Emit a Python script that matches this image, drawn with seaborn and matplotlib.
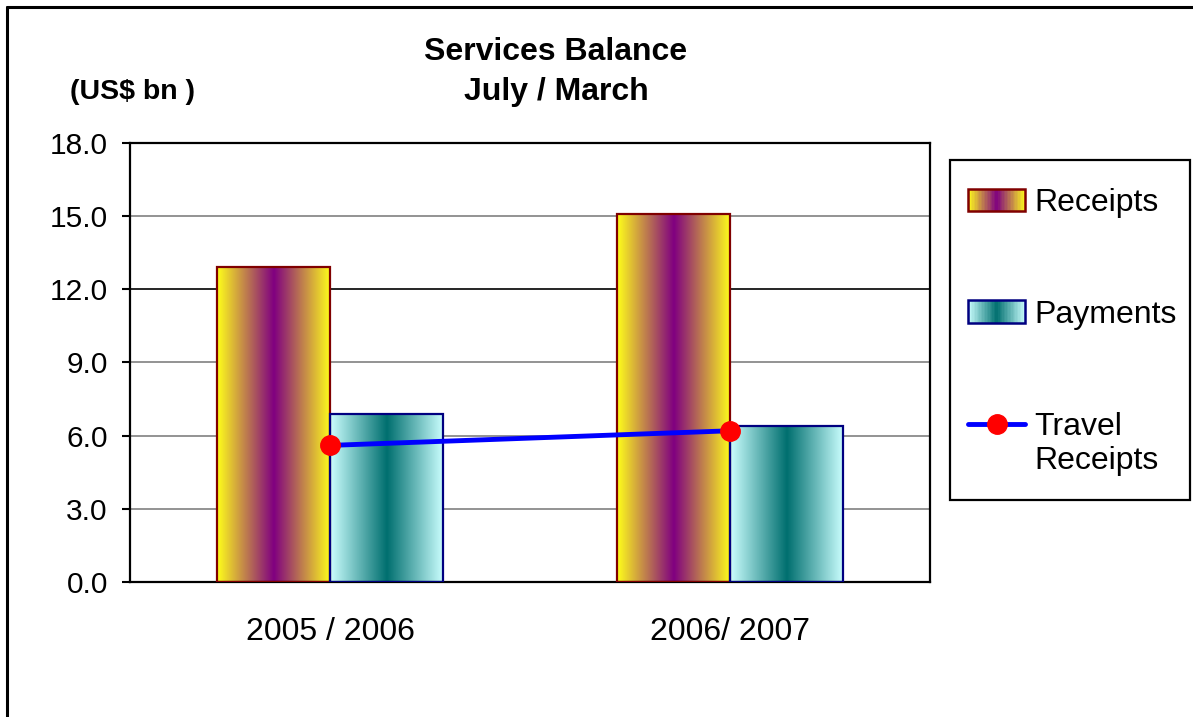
import seaborn as sns
import pandas as pd
import numpy as np
import matplotlib
matplotlib.use('Agg')
import matplotlib.pyplot as plt
from matplotlib.colors import LinearSegmentedColormap
from matplotlib.patches import Rectangle, Patch
from matplotlib.lines import Line2D
from matplotlib.legend_handler import HandlerBase

# data
periods = ['2005 / 2006', '2006/ 2007']
series = ['Receipts', 'Payments']
receipts = [12.9, 15.1]
payments = [6.9, 6.4]
travel_receipts = [5.6, 6.2]
yticks = [0, 3, 6, 9, 12, 15, 18]

# gradient colours: edge -> centre -> edge, outline
grad = {
    'Receipts': ('#ffff1a', '#800080', '#800000'),
    'Payments': ('#ccffff', '#006f6f', '#000080'),
}

sns.set_style('white')
plt.rcParams['font.family'] = ['Liberation Sans', 'DejaVu Sans']
plt.rcParams['text.color'] = 'black'
plt.rcParams['xtick.color'] = 'black'
plt.rcParams['ytick.color'] = 'black'
plt.rcParams['axes.labelcolor'] = 'black'

W, H = 1193, 717


def make_cmap(light, dark):
    return LinearSegmentedColormap.from_list('g', [light, dark, light])


class GradHandler(HandlerBase):
    # legend swatch with the same side-to-side gradient as the bars
    def __init__(self, light, dark, edge):
        super().__init__()
        self.cmap = make_cmap(light, dark)
        self.edge = edge

    def create_artists(self, legend, orig_handle, xdescent, ydescent,
                       width, height, fontsize, trans):
        arts = []
        n = 40
        for i in range(n):
            arts.append(Rectangle((-xdescent + i * width / n, -ydescent), width / n * 1.05, height,
                                  facecolor=self.cmap((i + 0.5) / n), edgecolor='none',
                                  transform=trans))
        arts.append(Rectangle((-xdescent, -ydescent), width, height, facecolor='none',
                              edgecolor=self.edge, lw=1.8, transform=trans))
        return arts


class LineHandler(HandlerBase):
    # line + marker sitting level with the first line of a two-line label
    def create_artists(self, legend, orig_handle, xdescent, ydescent,
                       width, height, fontsize, trans):
        y = -ydescent + height / 2 + 14.4
        ln = Line2D([-xdescent, -xdescent + width], [y, y], color='#0000ff', lw=3.5,
                    solid_capstyle='round', transform=trans)
        mk = Line2D([-xdescent + width / 2], [y], ls='none', marker='o', markersize=14,
                    markerfacecolor='#ff0000', markeredgecolor='#ff0000', transform=trans)
        return [ln, mk]


df = pd.DataFrame({
    'period': periods * 2,
    'series': [series[0]] * 2 + [series[1]] * 2,
    'value': receipts + payments,
})

fig = plt.figure(figsize=(W / 100, H / 100), dpi=100)
ax = fig.add_axes([0.109, 0.1883, 0.6706, 0.6123])

sns.barplot(data=df, x='period', y='value', hue='series', hue_order=series,
            palette=[grad[s][1] for s in series], width=0.566, legend=False,
            ax=ax, zorder=2)

# replace flat fill with gradient images clipped to each bar
g = np.linspace(0, 1, 256).reshape(1, -1)
for cont, s in zip(ax.containers, series):
    light, dark, edge = grad[s]
    cmap = make_cmap(light, dark)
    for bar in cont:
        x0, y0 = bar.get_x(), bar.get_y()
        w, h = bar.get_width(), bar.get_height()
        ax.imshow(g, cmap=cmap, extent=(x0, x0 + w, y0, y0 + h), aspect='auto',
                  interpolation='bilinear', zorder=2)
        bar.set_facecolor('none')
        bar.set_edgecolor(edge)
        bar.set_linewidth(1.6)
        bar.set_zorder(3)

ax.plot(range(len(periods)), travel_receipts, color='#0000ff', lw=3.5, marker='o',
        markersize=14, markerfacecolor='#ff0000', markeredgecolor='#ff0000', zorder=4)

ax.set_xlim(-0.5, len(periods) - 0.5)
ax.set_ylim(0, 18)
ax.set_yticks(yticks)
ax.set_yticklabels([f'{v:.1f}' for v in yticks], fontsize=21.5)
ax.set_xticks(range(len(periods)))
ax.set_xticklabels(periods, fontsize=23)
ax.set_xlabel('')
ax.set_ylabel('')
ax.tick_params(axis='x', length=0, pad=25)
ax.tick_params(axis='y', length=6, width=1.5, pad=10, left=True, direction='out', color='black')
ax.yaxis.grid(True, color='#808080', lw=1.2)
ax.get_ygridlines()[4].set_color('black')
ax.set_axisbelow(True)
for sp in ax.spines.values():
    sp.set_visible(True)
    sp.set_color('black')
    sp.set_linewidth(1.6)

fig.text(0.466, 1 - 52 / H, 'Services Balance', ha='center', va='center', fontsize=23, fontweight='bold')
fig.text(0.466, 1 - 92 / H, 'July / March', ha='center', va='center', fontsize=23, fontweight='bold')
fig.text(0.059, 1 - 92 / H, '(US$ bn )', ha='left', va='center', fontsize=20.5, fontweight='bold')

h_rec = Patch(label='Receipts')
h_pay = Patch(label='Payments')
h_trv = Line2D([], [])
leg = fig.legend([h_rec, h_pay, h_trv], ['Receipts', 'Payments', 'Travel\nReceipts'],
                 handler_map={h_rec: GradHandler(*grad['Receipts']),
                              h_pay: GradHandler(*grad['Payments']),
                              h_trv: LineHandler()},
                 loc='upper left', bbox_to_anchor=(952 / W, 1 - 172 / H),
                 borderaxespad=0, fontsize=23, frameon=False, labelspacing=2.56,
                 handlelength=1.8, handletextpad=0.28, borderpad=0.5, numpoints=1)

# legend box drawn separately so its size matches the reference
fig.add_artist(Rectangle((950 / W, 1 - 500 / H), 240 / W, 340 / H, transform=fig.transFigure,
                         facecolor='none', edgecolor='black', lw=1.6))

# outer chart border (left and top only visible)
fig.add_artist(Line2D([7 / W, 7 / W], [0, 1 - 7 / H], transform=fig.transFigure,
                      color='black', lw=2.2))
fig.add_artist(Line2D([7 / W, 1], [1 - 7 / H, 1 - 7 / H], transform=fig.transFigure,
                      color='black', lw=2.2))

fig.savefig('out.png', dpi=100)
